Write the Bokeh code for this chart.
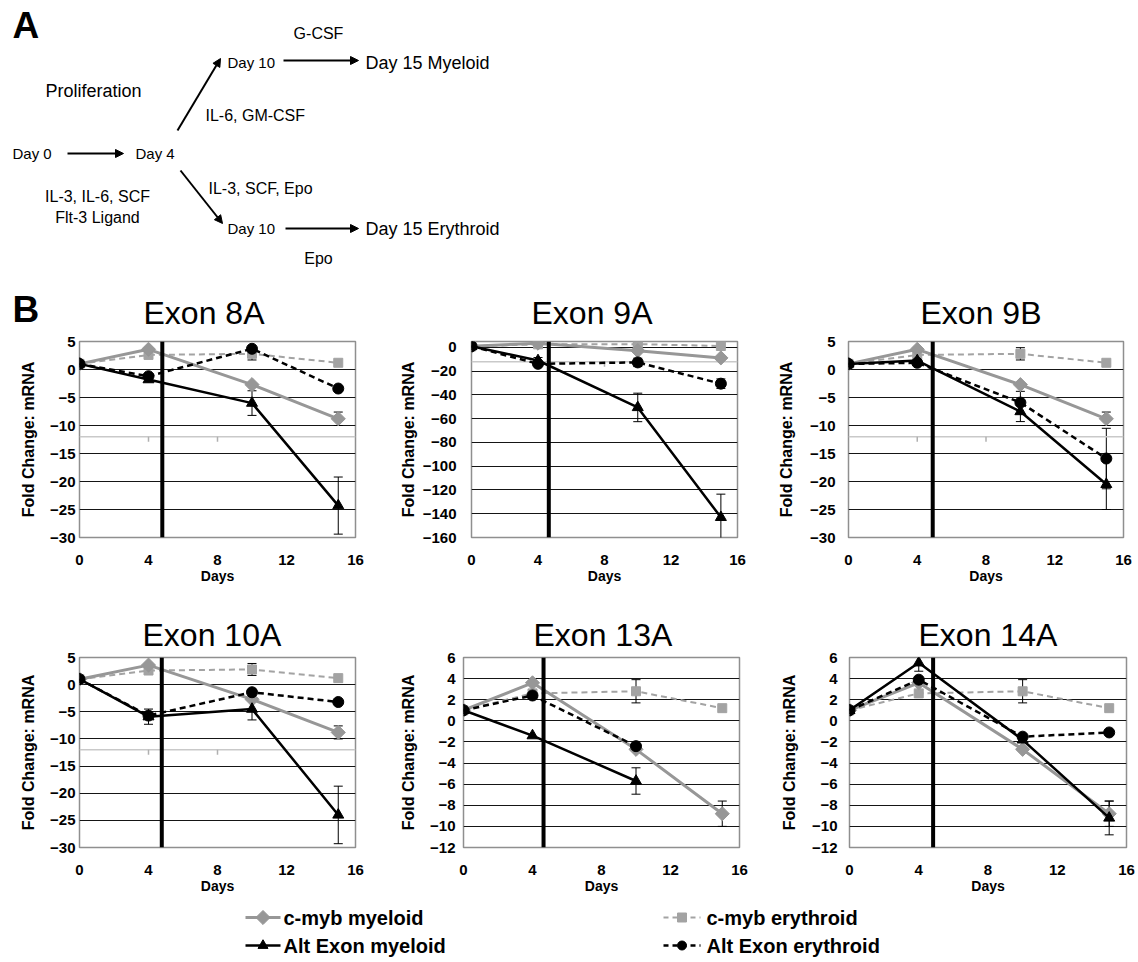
import math
from bokeh.plotting import figure
from bokeh.layouts import column, row
from bokeh.models import (Range1d, FixedTicker, Span, Whisker, TeeHead, ColumnDataSource,
                          Arrow, NormalHead)
from bokeh.core.properties import value
from bokeh.embed import file_html
from bokeh.resources import INLINE

FONT = "Liberation Sans"
nan = float("nan")

# ---------------- data ----------------
days = [0, 4, 10, 15]
exons = ["Exon 8A", "Exon 9A", "Exon 9B", "Exon 10A", "Exon 13A", "Exon 14A"]

cmyb_myeloid = [1.0, 3.6, -2.7, -8.8]
cmyb_myeloid_err = [0, 0, 0, 1.2]
cmyb_erythroid = [1.0, 2.6, 2.8, 1.2]
cmyb_erythroid_err = [0, 0, 1.1, 0]

alt_myeloid_8A = [1.0, -1.8, -6.0, -24.3]
alt_myeloid_8A_err = [0, 0.4, 2.2, 5.1]
alt_erythroid_8A = [1.0, -1.2, 3.7, -3.4]
alt_erythroid_8A_err = [0, 0, 0, 0]

alt_myeloid_9A = [1.0, -11.0, -50.5, -143.0]
alt_myeloid_9A_err = [0, 2.5, 12.0, 19.5]
alt_erythroid_9A = [1.0, -13.8, -12.6, -30.5]
alt_erythroid_9A_err = [0, 0, 3.5, 4.0]

alt_myeloid_9B = [1.0, 1.6, -7.5, -20.5]
alt_myeloid_9B_err = [0, 0, 1.8, 4.5]
alt_erythroid_9B = [1.0, 1.2, -5.9, -15.9]
alt_erythroid_9B_err = [0, 0, 2.0, 5.4]

alt_myeloid_10A = [1.0, -5.9, -4.5, -24.0]
alt_myeloid_10A_err = [0, 1.4, 2.0, 5.3]
alt_erythroid_10A = [1.0, -5.7, -1.4, -3.2]
alt_erythroid_10A_err = [0, 0, 0, 0]

alt_myeloid_13A = [1.0, -1.4, -5.7, nan]
alt_myeloid_13A_err = [0, 0, 1.25, 0]
alt_erythroid_13A = [1.0, 2.4, -2.4, nan]
alt_erythroid_13A_err = [0, 0, 0, 0]

alt_myeloid_14A = [1.0, 5.5, -1.8, -9.2]
alt_myeloid_14A_err = [0, 0.8, 0, 1.6]
alt_erythroid_14A = [1.0, 3.9, -1.5, -1.1]
alt_erythroid_14A_err = [0, 0, 0, 0]

y_min = [-30, -160, -30, -30, -12, -12]
y_max = [5, 5, 5, 5, 6, 6]
y_step = [5, 20, 5, 5, 2, 2]
x_ticks = [0, 4, 8, 12, 16]
divider_day = [4.8, 4.65, 4.9, 4.77, 4.64, 4.83]
ghost_axis_level = -12
ghost_axis_panels = [True, True, True, True, False, False]
ghost_tick_days = [4, 8]

alt_myeloid_all = [alt_myeloid_8A, alt_myeloid_9A, alt_myeloid_9B, alt_myeloid_10A, alt_myeloid_13A, alt_myeloid_14A]
alt_myeloid_err_all = [alt_myeloid_8A_err, alt_myeloid_9A_err, alt_myeloid_9B_err, alt_myeloid_10A_err, alt_myeloid_13A_err, alt_myeloid_14A_err]
alt_erythroid_all = [alt_erythroid_8A, alt_erythroid_9A, alt_erythroid_9B, alt_erythroid_10A, alt_erythroid_13A, alt_erythroid_14A]
alt_erythroid_err_all = [alt_erythroid_8A_err, alt_erythroid_9A_err, alt_erythroid_9B_err, alt_erythroid_10A_err, alt_erythroid_13A_err, alt_erythroid_14A_err]

# diagram (panel A) texts
diag_text = ["Proliferation", "Day 0", "Day 4", "Day 10", "Day 15  Myeloid", "G-CSF",
             "IL-6, GM-CSF", "IL-3, SCF, Epo", "IL-3, IL-6, SCF", "Flt-3 Ligand",
             "Day 10", "Day 15  Erythroid", "Epo"]

legend_left = ["c-myb myeloid", "Alt Exon myeloid"]
legend_right = ["c-myb erythroid", "Alt Exon erythroid"]

GRAY_M = "#979797"
GRAY_E = "#a3a3a3"
BLACK = "#000000"

# ---------------- panel A (+ panel letter B and first-row titles) ----------------
PA_H = 331
pa = figure(width=1138, height=PA_H, x_range=Range1d(0, 1138), y_range=Range1d(PA_H, 0),
            x_axis_type=None, y_axis_type=None, output_backend="svg", toolbar_location=None,
            min_border=0)
pa.grid.visible = False
pa.outline_line_color = None

diag_src = ColumnDataSource(dict(
    text=diag_text,
    x=[93, 12, 135, 227, 365, 318, 205, 208, 97, 97, 227, 365, 318],
    y=[90, 153, 153, 62, 62, 33, 115, 188, 196, 217, 228, 228, 258],
    align=["center", "left", "left", "left", "left", "center", "left", "left",
           "center", "center", "left", "left", "center"],
    size=["18px", "15px", "15px", "15px", "18px", "16px", "16px", "16px", "16px", "16px",
          "15px", "18px", "16px"],
))
pa.text(x="x", y="y", text="text", source=diag_src, text_align="align", text_baseline="middle",
        text_font=value(FONT), text_font_size="size", text_color=BLACK)
pa.text(x=[12, 12], y=[25, 309], text=["A", "B"], text_align="left", text_baseline="middle",
        text_font=value(FONT), text_font_size=value("37px"), text_font_style="bold", text_color=BLACK)
pa.text(x=[143, 531, 920], y=[312, 312, 312], text=exons[:3], text_align="left",
        text_baseline="middle", text_font=value(FONT), text_font_size=value("32px"),
        text_color=BLACK)
for (xs, ys, xe, ye) in [(67, 153, 123, 153), (177, 130, 220, 58), (180, 170, 222, 223),
                         (283, 60, 358, 60), (285, 228, 358, 228)]:
    pa.add_layout(Arrow(x_start=xs, y_start=ys, x_end=xe, y_end=ye, line_width=2, line_color=BLACK,
                        end=NormalHead(size=8, fill_color=BLACK, line_color=BLACK)))

# ---------------- panels B ----------------
panel_cfg = [  # fig_w, fig_h, left, right, top, bottom, label_standoff, axis_label_standoff, title_offset
    (388, 267, 79, 33, 10, 61, 4, 10, 0),
    (385, 267, 83, 36, 10, 61, 15, 3, 0),
    (365, 267, 75, 15, 10, 61, 13, 12, 0),
    (388, 300, 79, 33, 55, 50, 4, 10, 63),
    (385, 300, 75, 34, 55, 50, 8, 10, 70),
    (365, 300, 76, 12, 59, 51, 12, 11, 69),
]


def add_err(p, ys, errs):
    xs, lo, hi = [], [], []
    for d, y, e in zip(days, ys, errs):
        if e > 0 and not math.isnan(y):
            xs.append(d); lo.append(y - e); hi.append(y + e)
    if not xs:
        return
    src = ColumnDataSource(dict(x=xs, lo=lo, hi=hi))
    p.add_layout(Whisker(source=src, base="x", lower="lo", upper="hi", line_color=BLACK, line_width=1,
                         upper_head=TeeHead(size=9, line_color=BLACK, line_width=1),
                         lower_head=TeeHead(size=9, line_color=BLACK, line_width=1)))


panels = []
for i, name in enumerate(exons):
    fw, fh, bl, br, bt, bb, lstand, alstand, toff = panel_cfg[i]
    p = figure(width=fw, height=fh, x_range=Range1d(0, 16), y_range=Range1d(y_min[i], y_max[i]),
               output_backend="svg", toolbar_location=None, title=(name if i >= 3 else None),
               min_border_left=bl, min_border_right=br, min_border_top=bt, min_border_bottom=bb)
    if i >= 3:
        p.title.text_font = FONT
        p.title.text_font_size = "32px"
        p.title.text_font_style = "normal"
        p.title.text_color = BLACK
        p.title.align = "left"
        p.title.offset = toff
        p.title.standoff = 9
    p.outline_line_color = "#8f8f8f"
    p.outline_line_width = 1.5
    yt = list(range(y_min[i], y_max[i] + 1, y_step[i]))
    p.xgrid.visible = False
    p.ygrid.ticker = FixedTicker(ticks=[t for t in yt if y_min[i] < t < y_max[i]])
    p.ygrid.grid_line_color = "#151515"
    p.ygrid.grid_line_width = 1
    p.xaxis.ticker = FixedTicker(ticks=x_ticks)
    p.yaxis.ticker = FixedTicker(ticks=yt)
    for ax in (p.xaxis[0], p.yaxis[0]):
        ax.axis_line_color = None
        ax.major_tick_line_color = None
        ax.minor_tick_line_color = None
        ax.major_tick_out = 0
        ax.major_tick_in = 0
        ax.major_label_text_font = FONT
        ax.major_label_text_font_style = "bold"
        ax.major_label_text_font_size = "15px"
        ax.major_label_text_color = BLACK
        ax.axis_label_text_font = FONT
        ax.axis_label_text_font_style = "bold"
        ax.axis_label_text_color = BLACK
    p.xaxis.axis_label = "Days"
    p.xaxis.axis_label_text_font_size = "14px"
    p.xaxis.axis_label_standoff = 0
    p.xaxis.major_label_standoff = 17
    p.yaxis.axis_label = "Fold Change: mRNA"
    p.yaxis.axis_label_text_font_size = "16px"
    p.yaxis.axis_label_standoff = alstand
    p.yaxis.major_label_standoff = lstand

    upp = (y_max[i] - y_min[i]) / (fh - bt - bb)
    if ghost_axis_panels[i]:
        p.line([0, 16], [ghost_axis_level, ghost_axis_level], line_color="#c9c9c9", line_width=1.5)
        p.segment(x0=ghost_tick_days, y0=[ghost_axis_level] * len(ghost_tick_days),
                  x1=ghost_tick_days, y1=[ghost_axis_level - 5 * upp] * len(ghost_tick_days),
                  line_color="#b0b0b0", line_width=1.5)

    add_err(p, cmyb_erythroid, cmyb_erythroid_err)
    add_err(p, cmyb_myeloid, cmyb_myeloid_err)
    add_err(p, alt_erythroid_all[i], alt_erythroid_err_all[i])
    add_err(p, alt_myeloid_all[i], alt_myeloid_err_all[i])

    p.line(days, cmyb_erythroid, line_color=GRAY_E, line_width=2, line_dash="6 4")
    p.scatter(days, cmyb_erythroid, marker="square", size=9, fill_color=GRAY_E, line_color=GRAY_E)
    p.line(days, cmyb_myeloid, line_color=GRAY_M, line_width=3)
    p.scatter(days, cmyb_myeloid, marker="square", angle=math.pi / 4, size=10,
              fill_color=GRAY_M, line_color=GRAY_M)
    p.line(days, alt_erythroid_all[i], line_color=BLACK, line_width=2.5, line_dash="6 4")
    p.scatter(days, alt_erythroid_all[i], marker="circle", size=11, fill_color=BLACK, line_color=BLACK)
    p.line(days, alt_myeloid_all[i], line_color=BLACK, line_width=2.5)
    p.scatter(days, alt_myeloid_all[i], marker="triangle", size=11, fill_color=BLACK, line_color=BLACK)

    p.add_layout(Span(location=divider_day[i], dimension="height", line_color=BLACK, line_width=4))
    panels.append(p)

# ---------------- legend ----------------
LG_H = 64
pl = figure(width=1138, height=LG_H, x_range=Range1d(0, 1138), y_range=Range1d(LG_H, 0),
            x_axis_type=None, y_axis_type=None, output_backend="svg", toolbar_location=None,
            min_border=0)
pl.grid.visible = False
pl.outline_line_color = None
row_y = [19, 47]
# left column: solid swatches
pl.segment(x0=[245], y0=[row_y[0]], x1=[280], y1=[row_y[0]], line_color=GRAY_M, line_width=3)
pl.scatter([262.5], [row_y[0]], marker="square", angle=math.pi / 4, size=10, fill_color=GRAY_M, line_color=GRAY_M)
pl.segment(x0=[245], y0=[row_y[1]], x1=[280], y1=[row_y[1]], line_color=BLACK, line_width=2.5)
pl.scatter([262.5], [row_y[1]], marker="triangle", size=10, fill_color=BLACK, line_color=BLACK)
# right column: dashed swatches
pl.segment(x0=[663], y0=[row_y[0]], x1=[700], y1=[row_y[0]], line_color=GRAY_E, line_width=2, line_dash="5 4")
pl.scatter([681.5], [row_y[0]], marker="square", size=9, fill_color=GRAY_E, line_color=GRAY_E)
pl.segment(x0=[663], y0=[row_y[1]], x1=[700], y1=[row_y[1]], line_color=BLACK, line_width=2.5, line_dash="5 4")
pl.scatter([681.5], [row_y[1]], marker="circle", size=9, fill_color=BLACK, line_color=BLACK)
pl.text(x=[283, 283], y=row_y, text=legend_left, text_align="left", text_baseline="middle",
        text_font=value(FONT), text_font_size=value("20px"), text_font_style="bold", text_color=BLACK)
pl.text(x=[706, 706], y=row_y, text=legend_right, text_align="left", text_baseline="middle",
        text_font=value(FONT), text_font_size=value("20px"), text_font_style="bold", text_color=BLACK)

layout = column(pa, row(*panels[:3]), row(*panels[3:]), pl)
open("out.html", "w").write(file_html(layout, INLINE))
